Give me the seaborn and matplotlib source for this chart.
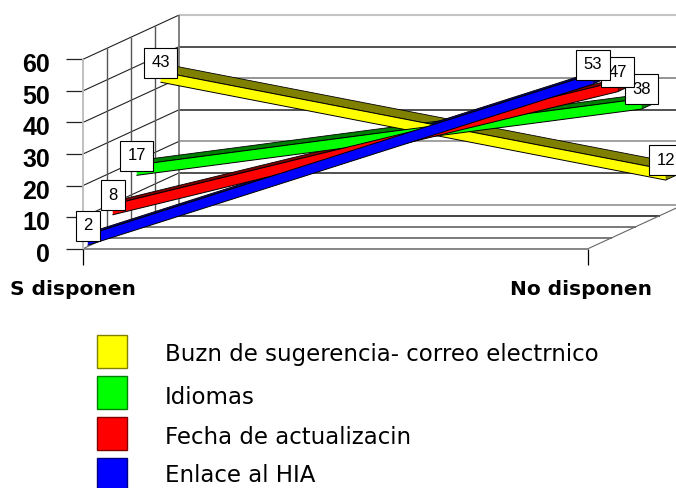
import matplotlib
matplotlib.use("Agg")
import matplotlib.pyplot as plt
from matplotlib.patches import Rectangle
from matplotlib.transforms import ScaledTranslation
import numpy as np
import pandas as pd
import seaborn as sns

sns.set_style("white")

#%% data
categorias = ["S disponen", "No disponen"]
series = ["Buzn de sugerencia- correo electrnico", "Idiomas", "Fecha de actualizacin", "Enlace al HIA"]
buzon = [43, 12]
idiomas = [17, 38]
fecha = [8, 47]
enlace = [2, 53]
valores = [buzon, idiomas, fecha, enlace]
colores = ["#ffff00", "#00ff00", "#ff0000", "#0000ff"]
oscuros = ["#808000", "#008000", "#800000", "#000080"]
profundidad = [0.81, 0.56, 0.31, 0.05]
yticks = [0, 10, 20, 30, 40, 50, 60]

W, H = 676, 488
dx, dy = 0.19, 14.0  # oblique shift for full depth
ancho = 0.135        # ribbon depth
bajo, alto = 1.6, 1.7  # face of the ribbon around the value

fig = plt.figure(figsize=(W / 100, H / 100), dpi=100)
ax = fig.add_axes([83 / W, 1 - 248.7 / H, 505 / W, 189.4 / H])
ax.set_xlim(0, 1)
ax.set_ylim(0, 60)
sns.despine(ax=ax, left=True, bottom=True)


def linea(xs, ys, color, lw=1.0, z=1):
    ax.plot(xs, ys, color=color, lw=lw, zorder=z, clip_on=False, solid_capstyle="butt")


#%% walls and floor
back_col = ["#888888", "#222222", "#888888", "#222222", "#777777", "#222222", "#c4c4c4"]
floor_col = ["#666666", "#555555", "#555555", "#111111"]
for v, c in zip(yticks, back_col):
    linea([dx, 1 + dx], [v + dy, v + dy], c, 1.5 if v == 60 else 1.1)
    linea([0, dx], [v, v + dy], "#222222" if v else "#666666", 0.8)
for i, c in enumerate(floor_col):
    d = i / 4
    linea([d * dx, 1 + d * dx], [d * dy, d * dy], c, 1.1)
    if i:
        linea([d * dx, d * dx], [d * dy, 60 + d * dy], "#555555", 1.0)
linea([0, 0], [0, 60], "#bbbbbb", 1.3)
linea([dx, dx], [dy, 60 + dy], "#777777", 1.3)
linea([1, 1 + dx], [0, dy], "#666666", 0.8)

#%% ribbons, back to front
xc = np.array([0.0, 1.0])
for s, vals, col, osc, d in zip(series, valores, colores, oscuros, profundidad):
    x0 = xc + d * dx
    y0 = np.array(vals) + d * dy
    sx, sy = ancho * dx, ancho * dy
    top = y0 + alto
    bot = y0 - bajo
    ax.fill([x0[0], x0[1], x0[1] + sx, x0[0] + sx], [top[0], top[1], top[1] + sy, top[0] + sy],
            color=osc, ec="black", lw=0.6, zorder=3, clip_on=False)
    ax.fill([x0[1], x0[1] + sx, x0[1] + sx, x0[1]], [bot[1], bot[1] + sy, top[1] + sy, top[1]],
            color=osc, ec="black", lw=0.6, zorder=3, clip_on=False)
    ax.fill([x0[0], x0[1], x0[1], x0[0]], [bot[0], bot[1], top[1], top[0]],
            color=col, ec="none", zorder=4, clip_on=False)
    df = pd.DataFrame({"x": np.r_[x0, x0], "y": np.r_[bot, top], "borde": ["b", "b", "t", "t"]})
    sns.lineplot(data=df, x="x", y="y", units="borde", estimator=None, color="black",
                 lw=0.7, ax=ax, zorder=4, sort=False, legend=False)
    for i, v in enumerate(vals):
        ax.annotate(str(v), (x0[i], y0[i]), xytext=(0, 10.5), textcoords="offset points",
                    ha="center", va="center", fontsize=12, family="Liberation Sans", zorder=6,
                    color="black", annotation_clip=False,
                    bbox=dict(boxstyle="square,pad=0.45", fc="white", ec="black", lw=0.8))
for l in ax.lines:
    l.set_clip_on(False)

#%% axes
ax.set_xlabel("")
ax.set_ylabel("")
ax.set_xticks(xc, categorias)
ax.set_yticks(yticks, [str(v) for v in yticks])
ax.tick_params(axis="y", left=True, length=12.5, width=0.9, color="#222222", pad=11,
               labelsize=18, labelcolor="black")
ax.tick_params(axis="x", bottom=True, length=11.5, width=0.9, color="black", pad=11,
               labelsize=14.5, labelcolor="black")
for t in ax.get_yticklabels():
    t.set(fontweight="bold", family="Liberation Sans")
    t.set_transform(t.get_transform() + ScaledTranslation(0, -2.5 / 72, fig.dpi_scale_trans))
for t, off in zip(ax.get_xticklabels(), [-7, -5]):
    t.set(fontweight="bold", family="DejaVu Sans")
    t.set_transform(t.get_transform() + ScaledTranslation(off / 72, 0, fig.dpi_scale_trans))

#%% legend
ycaja = [335, 376, 417, 458]
ytexto = [355, 397, 438, 475]
for s, col, osc, yc, yt in zip(series, colores, oscuros, ycaja, ytexto):
    fig.add_artist(Rectangle((97 / W, 1 - (yc + 33) / H), 30 / W, 33 / H, fc=col, ec=osc, lw=1,
                             transform=fig.transFigure))
    fig.text(165 / W, 1 - yt / H, s, fontsize=16.5, family="DejaVu Sans", va="center", color="black")

fig.savefig("out.png", dpi=100, facecolor="white")
